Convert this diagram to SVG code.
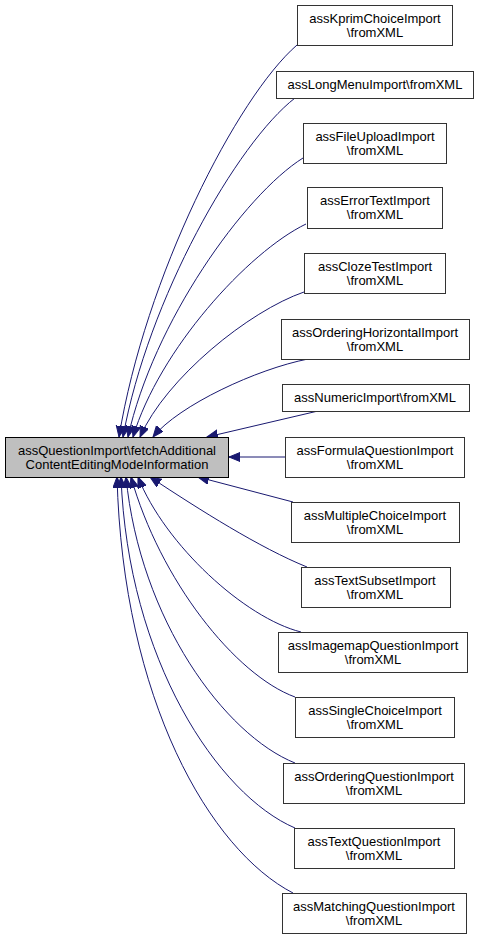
<svg xmlns="http://www.w3.org/2000/svg" width="479" height="940" viewBox="0 0 479 940">
<style>
.n rect{fill:#fff;stroke:#333;stroke-width:1}
.m rect{fill:#bfbfbf;stroke:#000;stroke-width:1}
text{font-family:"Liberation Sans",Arial,sans-serif;font-size:13px;fill:#000;text-anchor:middle}
.e path{fill:none;stroke:#191970;stroke-width:1;marker-end:url(#ah)}
</style>
<defs>
<marker id="ah" markerUnits="userSpaceOnUse" markerWidth="12" markerHeight="10" refX="11" refY="4.5" orient="auto" viewBox="0 0 12 10">
<path d="M0,0 L11,4.5 L0,9 z" fill="#191970" stroke="#191970" stroke-width="1"/>
</marker>
</defs>
<g id="edges" class="e">
<path d="M297,45 C237,97 145,277 119,437"/>
<path d="M295,98 C237,143 148,299 123,437"/>
<path d="M303,158 C244,195 153,323 128,437"/>
<path d="M306,224 C248,252 159,350 133,437"/>
<path d="M304,292 C249,311 166,378 140,437"/>
<path d="M308,359 C257,369 179,405 153,437"/>
<path d="M318,411 L207,437"/>
<path d="M285,457 L229,457"/>
<path d="M293,502 L198,477"/>
<path d="M307,567 C260,548 200,510 150,477"/>
<path d="M301,632 C245,618 165,545 138,477"/>
<path d="M295,697 C235,675 160,580 131,477"/>
<path d="M295,763 C225,735 140,620 126,477"/>
<path d="M295,828 C218,795 128,660 121,477"/>
<path d="M293,893 C210,850 123,700 117,477"/>
</g>
<g id="main" class="m"><rect x="5.5" y="437.5" width="223" height="40"/><text x="117" y="454.5">assQuestionImport\fetchAdditional</text><text x="117" y="468.5">ContentEditingModeInformation</text></g>
<g id="kprim" class="n"><rect x="297.5" y="5.5" width="155" height="40"/><text x="375" y="22.5">assKprimChoiceImport</text><text x="375" y="36.5">\fromXML</text></g>
<g id="longmenu" class="n"><rect x="276.5" y="71.5" width="197" height="27"/><text x="375" y="89">assLongMenuImport\fromXML</text></g>
<g id="fileupload" class="n"><rect x="303.5" y="123.5" width="143" height="40"/><text x="375" y="140.5">assFileUploadImport</text><text x="375" y="154.5">\fromXML</text></g>
<g id="errortext" class="n"><rect x="307.5" y="187.5" width="135" height="41"/><text x="375" y="205">assErrorTextImport</text><text x="375" y="219">\fromXML</text></g>
<g id="cloze" class="n"><rect x="304.5" y="253.5" width="141" height="40"/><text x="375" y="270.5">assClozeTestImport</text><text x="375" y="284.5">\fromXML</text></g>
<g id="orderinghorizontal" class="n"><rect x="281.5" y="319.5" width="188" height="40"/><text x="375" y="336.5">assOrderingHorizontalImport</text><text x="375" y="350.5">\fromXML</text></g>
<g id="numeric" class="n"><rect x="282.5" y="384.5" width="187" height="27"/><text x="375" y="402">assNumericImport\fromXML</text></g>
<g id="formula" class="n"><rect x="285.5" y="437.5" width="179" height="40"/><text x="375" y="454.5">assFormulaQuestionImport</text><text x="375" y="468.5">\fromXML</text></g>
<g id="multiplechoice" class="n"><rect x="291.5" y="502.5" width="168" height="40"/><text x="375" y="519.5">assMultipleChoiceImport</text><text x="375" y="533.5">\fromXML</text></g>
<g id="textsubset" class="n"><rect x="301.5" y="567.5" width="149" height="40"/><text x="375" y="584.5">assTextSubsetImport</text><text x="375" y="598.5">\fromXML</text></g>
<g id="imagemap" class="n"><rect x="278.5" y="632.5" width="189" height="40"/><text x="373" y="649.5">assImagemapQuestionImport</text><text x="373" y="663.5">\fromXML</text></g>
<g id="singlechoice" class="n"><rect x="295.5" y="697.5" width="159" height="40"/><text x="375" y="714.5">assSingleChoiceImport</text><text x="375" y="728.5">\fromXML</text></g>
<g id="orderingquestion" class="n"><rect x="283.5" y="763.5" width="181" height="40"/><text x="374" y="780.5">assOrderingQuestionImport</text><text x="374" y="794.5">\fromXML</text></g>
<g id="textquestion" class="n"><rect x="294.5" y="828.5" width="160" height="40"/><text x="374" y="845.5">assTextQuestionImport</text><text x="374" y="859.5">\fromXML</text></g>
<g id="matching" class="n"><rect x="282.5" y="893.5" width="184" height="40"/><text x="374" y="910.5">assMatchingQuestionImport</text><text x="374" y="924.5">\fromXML</text></g>
</svg>
